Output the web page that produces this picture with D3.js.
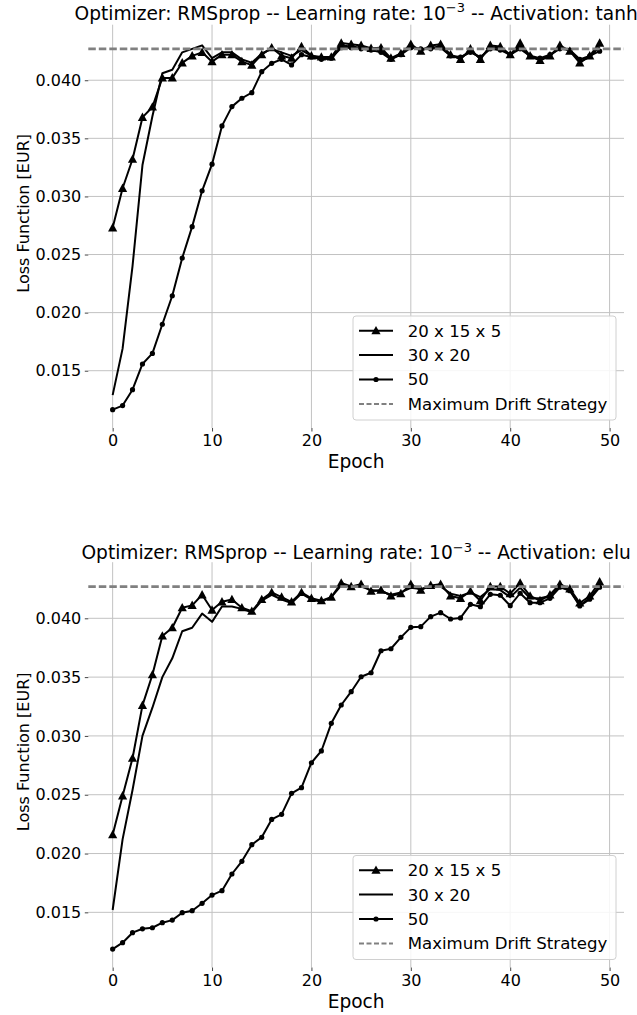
<!DOCTYPE html>
<html><head><meta charset="utf-8">
<script src="https://cdn.jsdelivr.net/npm/d3@7"></script>
<style>
body{margin:0;background:#fff}
svg{display:block}
text{font-family:"DejaVu Sans",sans-serif;fill:#000}
</style>
</head><body>
<svg id="c" width="637" height="1015"></svg>
<script>
// ---------- data ----------
const seriesNames = ["20 x 15 x 5", "30 x 20", "50"];
const driftName = "Maximum Drift Strategy";
const xTicks = [0, 10, 20, 30, 40, 50];
const yTicks = [0.015, 0.020, 0.025, 0.030, 0.035, 0.040];
const yTickLabels = ["0.015", "0.020", "0.025", "0.030", "0.035", "0.040"];
const activations = ["tanh", "elu"];
const driftValues = [0.0427, 0.0427];

// top panel (tanh)
const tanhNet20155 = [0.0273,0.0307,0.0332,0.0368,0.0377,0.0402,0.0402,0.0415,0.0421,0.0424,
  0.0416,0.0422,0.0422,0.0416,0.0413,0.0422,0.0428,0.0421,0.0419,0.0429,
  0.0421,0.0420,0.0420,0.0432,0.0431,0.0430,0.04275,0.0428,0.0419,0.0423,
  0.0431,0.0425,0.0430,0.0431,0.0422,0.0418,0.0427,0.0418,0.0430,0.0429,
  0.0422,0.0432,0.0421,0.0417,0.0421,0.0430,0.0425,0.0415,0.0421,0.0432];
const tanhNet3020 = [0.0129,0.0169,0.0240,0.0327,0.0369,0.0406,0.0409,0.0424,0.0427,0.0430,
  0.0419,0.0424,0.0424,0.0418,0.0415,0.0423,0.0427,0.0424,0.0421,0.0426,
  0.0421,0.0419,0.0418,0.0430,0.0429,0.0428,0.0427,0.0426,0.0418,0.0423,
  0.0429,0.0426,0.0428,0.0429,0.0421,0.0419,0.0425,0.0419,0.0428,0.0428,
  0.0421,0.0430,0.0420,0.0418,0.0421,0.0428,0.0426,0.0416,0.0420,0.0429];
const tanhNet50 = [0.01165,0.0120,0.01337,0.01558,0.01649,0.0190,0.02145,0.0247,0.0274,0.03048,
  0.03278,0.03607,0.03773,0.03845,0.03893,0.04074,0.04146,0.0418,0.04132,0.0422,
  0.0420,0.0418,0.0419,0.0428,0.0428,0.0427,0.0426,0.0424,0.0418,0.0422,
  0.0428,0.0427,0.0427,0.0428,0.0421,0.0420,0.0424,0.0420,0.0427,0.0426,
  0.0422,0.0427,0.0421,0.0419,0.0422,0.0427,0.0426,0.0418,0.0421,0.0425];

// bottom panel (elu)
const eluNet20155 = [0.0216,0.0249,0.0281,0.0326,0.0352,0.0385,0.0392,0.0409,0.0411,0.0420,
  0.0407,0.0414,0.0416,0.0409,0.0406,0.0416,0.0422,0.0418,0.0414,0.0422,
  0.0417,0.0415,0.0418,0.0430,0.0427,0.0429,0.0423,0.0424,0.0419,0.0421,
  0.0429,0.0424,0.0428,0.0429,0.0419,0.0417,0.0423,0.0415,0.0427,0.0427,
  0.0421,0.0430,0.0419,0.0415,0.0420,0.0429,0.0425,0.0413,0.0419,0.0431];
const eluNet3020 = [0.0152,0.0212,0.0254,0.0300,0.0324,0.0350,0.0366,0.0389,0.0392,0.0404,
  0.0397,0.0410,0.0410,0.0408,0.0405,0.0415,0.0420,0.0416,0.0413,0.0421,
  0.0416,0.0414,0.0418,0.0428,0.0427,0.0427,0.0424,0.0423,0.0420,0.0422,
  0.0426,0.0425,0.0427,0.0427,0.0421,0.0419,0.0422,0.0418,0.0425,0.0424,
  0.0418,0.0426,0.0417,0.0417,0.0419,0.0427,0.0424,0.0411,0.0417,0.0428];
const eluNet50 = [0.01188,0.01242,0.01327,0.0136,0.01369,0.01412,0.01434,0.01497,0.01514,0.01577,
  0.01647,0.01684,0.01826,0.01934,0.02075,0.02138,0.0229,0.02333,0.02512,0.0256,
  0.02772,0.02872,0.03107,0.03263,0.03376,0.03503,0.03537,0.03724,0.03741,0.03838,
  0.03923,0.03929,0.04014,0.04048,0.03994,0.04003,0.04119,0.04099,0.04204,0.04196,
  0.04107,0.04213,0.04133,0.04133,0.0417,0.04264,0.04235,0.04105,0.04162,0.04264];

// ---------- layout ----------
const svg = d3.select("#c");
const FS = 16;          // tick labels, y label
const FS_LEG = 16.6;    // legend
const FS_BIG = 18.6;    // title, x label
const xLim = [-2.45, 51.45];
const panels = [
  {act: activations[0], drift: driftValues[0], data: [tanhNet20155, tanhNet3020, tanhNet50],
   yLim: [0.01007, 0.04478], top: 24.7, bottom: 428, titleY: 19.5},
  {act: activations[1], drift: driftValues[1], data: [eluNet20155, eluNet3020, eluNet50],
   yLim: [0.01031, 0.04477], top: 562.2, bottom: 967.5, titleY: 559}
];
const left = 88.3, right = 624;
const gridColor = "#c2c2c2";

const triPath = "M0,-4.8L4.6,3.6L-4.6,3.6Z";

panels.forEach(p => {
  const x = d3.scaleLinear().domain(xLim).range([left, right]);
  const y = d3.scaleLinear().domain(p.yLim).range([p.bottom, p.top]);
  const g = svg.append("g");

  // grid
  g.append("g").selectAll("line").data(xTicks).join("line")
    .attr("x1", d => x(d)).attr("x2", d => x(d))
    .attr("y1", p.top).attr("y2", p.bottom)
    .attr("stroke", gridColor).attr("stroke-width", 1);
  g.append("g").selectAll("line").data(yTicks).join("line")
    .attr("x1", left).attr("x2", right)
    .attr("y1", d => y(d)).attr("y2", d => y(d))
    .attr("stroke", gridColor).attr("stroke-width", 1);

  // axes
  const ax = g.append("g").attr("transform", `translate(0,${p.bottom})`)
    .call(d3.axisBottom(x).tickValues(xTicks).tickSize(3.5).tickPadding(3.5).tickFormat(d3.format("d")));
  const ay = g.append("g").attr("transform", `translate(${left},0)`)
    .call(d3.axisLeft(y).tickValues(yTicks).tickSize(3.5).tickPadding(3.5).tickFormat((d, i) => yTickLabels[i]));
  [ax, ay].forEach(a => {
    a.select(".domain").remove();
    a.selectAll(".tick line").attr("stroke", "#444");
    a.selectAll(".tick text").attr("font-size", FS).attr("font-family", "DejaVu Sans").attr("fill", "#000");
  });

  // lines
  const line = d3.line().x((d, i) => x(i)).y(d => y(d));
  p.data.forEach((arr, k) => {
    g.append("path").datum(arr).attr("d", line)
      .attr("fill", "none").attr("stroke", "#000").attr("stroke-width", 2)
      .attr("stroke-linejoin", "round");
    if (k === 0) {
      g.append("g").selectAll("path").data(arr).join("path")
        .attr("d", triPath).attr("transform", (d, i) => `translate(${x(i)},${y(d)})`)
        .attr("fill", "#000");
    } else if (k === 2) {
      g.append("g").selectAll("circle").data(arr).join("circle")
        .attr("cx", (d, i) => x(i)).attr("cy", d => y(d)).attr("r", 2.6).attr("fill", "#000");
    }
  });

  // drift strategy
  g.append("line").attr("x1", left).attr("x2", right)
    .attr("y1", y(p.drift)).attr("y2", y(p.drift))
    .attr("stroke", "#808080").attr("stroke-width", 2.8).attr("stroke-dasharray", "7.5,3");

  // title
  const t = g.append("text").attr("x", (left + right) / 2).attr("y", p.titleY)
    .attr("text-anchor", "middle").attr("font-size", FS_BIG);
  t.append("tspan").text("Optimizer: RMSprop -- Learning rate: 10");
  t.append("tspan").attr("dy", -7.5).attr("font-size", FS_BIG * 0.7).text("\u22123");
  t.append("tspan").attr("dy", 7.5).text(" -- Activation: " + p.act);

  // axis labels
  g.append("text").attr("x", (left + right) / 2).attr("y", p.bottom + 40.3)
    .attr("text-anchor", "middle").attr("font-size", FS_BIG).text("Epoch");
  const cy = (p.top + p.bottom) / 2 - 13;
  g.append("text").attr("transform", `translate(28.5,${cy}) rotate(-90)`)
    .attr("text-anchor", "middle").attr("font-size", FS).text("Loss Function [EUR]");

  // legend
  const lw = 263, lh = 104;
  const lx = right - 8 - lw, ly = p.bottom - 8 - lh;
  const lg = g.append("g").attr("transform", `translate(${lx},${ly})`);
  lg.append("rect").attr("width", lw).attr("height", lh).attr("rx", 3)
    .attr("fill", "#fff").attr("fill-opacity", 0.85).attr("stroke", "#d0d0d0").attr("stroke-width", 1);
  const names = seriesNames.concat([driftName]);
  names.forEach((nm, k) => {
    const ry = 14.7 + k * 24.4;
    const h = lg.append("g").attr("transform", `translate(0,${ry})`);
    const l = h.append("line").attr("x1", 6).attr("x2", 40).attr("y1", 0).attr("y2", 0);
    if (k < 3) {
      l.attr("stroke", "#000").attr("stroke-width", 2);
      if (k === 0) h.append("path").attr("d", triPath).attr("transform", "translate(23,0)");
      if (k === 2) h.append("circle").attr("cx", 23).attr("cy", 0).attr("r", 2.6);
    } else {
      l.attr("stroke", "#808080").attr("stroke-width", 2).attr("stroke-dasharray", "5,2.5");
    }
    h.append("text").attr("x", 54.7).attr("y", 0).attr("dy", "0.36em")
      .attr("font-size", FS_LEG).text(nm);
  });
});
</script>
</body></html>
